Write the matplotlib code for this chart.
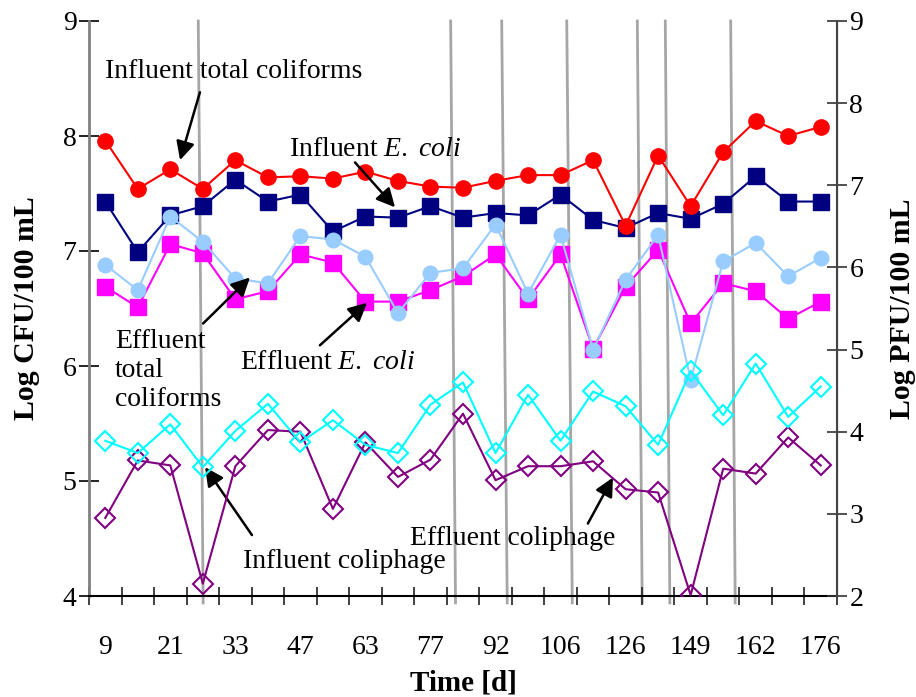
import numpy as np
import matplotlib
matplotlib.use("Agg")
import matplotlib.pyplot as plt

plt.rcParams['font.family'] = ['Liberation Serif', 'DejaVu Serif']
plt.rcParams['mathtext.fontset'] = 'custom'
plt.rcParams['mathtext.rm'] = 'Liberation Serif'
plt.rcParams['mathtext.it'] = 'Liberation Serif:italic'

# time axis (categories, every second one labelled)
tick_labels = ['9', '21', '33', '47', '63', '77', '92', '106', '126', '149', '162', '176']
n_pts = 23

# Log CFU/100 mL (left axis)
inf_total = [7.96, 7.54, 7.71, 7.54, 7.79, 7.64, 7.65, 7.63, 7.69, 7.61, 7.56, 7.55,
             7.61, 7.66, 7.66, 7.79, 7.22, 7.83, 7.39, 7.86, 8.13, 8.00, 8.08]
inf_ecoli = [7.43, 6.99, 7.31, 7.39, 7.62, 7.43, 7.49, 7.17, 7.30, 7.29, 7.39, 7.29,
             7.33, 7.31, 7.49, 7.27, 7.20, 7.33, 7.28, 7.41, 7.65, 7.43, 7.43]
eff_total = [6.88, 6.66, 7.30, 7.08, 6.76, 6.72, 7.13, 7.10, 6.95, 6.46, 6.81, 6.85,
             7.23, 6.63, 7.14, 6.14, 6.75, 7.14, 5.88, 6.91, 7.07, 6.78, 6.94]
eff_ecoli = [6.69, 6.51, 7.06, 6.98, 6.58, 6.65, 6.97, 6.90, 6.56, 6.56, 6.66, 6.78,
             6.97, 6.58, 6.97, 6.15, 6.69, 7.01, 6.37, 6.72, 6.65, 6.41, 6.56]

# Log PFU/100 mL (right axis)
eff_phage = [3.89, 3.74, 4.09, 3.57, 4.01, 4.34, 3.87, 4.14, 3.84, 3.74, 4.33, 4.60,
             3.74, 4.45, 3.89, 4.49, 4.31, 3.84, 4.74, 4.20, 4.83, 4.18, 4.55]
inf_phage = [2.95, 3.65, 3.59, 2.15, 3.58, 4.02, 4.00, 3.06, 3.87, 3.45, 3.66, 4.22,
             3.41, 3.58, 3.58, 3.64, 3.30, 3.26, 2.01, 3.55, 3.49, 3.93, 3.59]

# grey marker lines (category units, at top and bottom of the plot)
vline_top = [2.86, 10.62, 12.19, 14.19, 16.36, 17.22, 19.23]
vline_bot = [3.01, 10.77, 12.36, 14.36, 16.51, 17.36, 19.37]

x = np.arange(n_pts)

fig = plt.figure(figsize=(9.16, 6.97), dpi=100)
ax1 = fig.add_axes([89 / 916, 1 - 596 / 697, 748 / 916, 575 / 697])
ax2 = ax1.twinx()

for xt, xb in zip(vline_top, vline_bot):
    ax1.plot([xt, xb], [9, 3.94], color='#a6a6a6', lw=2, clip_on=False, zorder=1)

ax1.plot(x, inf_ecoli, '-s', color='#000080', lw=1.5, ms=12, zorder=3)
ax1.plot(x, eff_ecoli, '-s', color='#ff00ff', lw=1.5, ms=12, zorder=3)
ax1.plot(x, eff_total, '-o', color='#99ccff', lw=1.5, ms=10.5, zorder=3)
ax1.plot(x, inf_total, '-o', color='#ff0000', lw=1.5, ms=11, zorder=3)

ax2.plot(x, inf_phage, '-D', color='#800080', mfc='none', mec='#800080', mew=1.5, lw=1.5, ms=10)
ax2.plot(x, eff_phage, '-D', color='#00ffff', mfc='none', mec='#00ffff', mew=1.5, lw=1.5, ms=10)

ax1.set_xlim(-0.5, n_pts - 0.5)
ax1.set_ylim(4, 9)
ax2.set_ylim(2, 9)

ax1.set_xticks(np.arange(0, n_pts, 2))
ax1.set_xticklabels(tick_labels)
ax1.set_xticks(np.arange(-0.5, n_pts, 1), minor=True)
ax1.tick_params(axis='x', which='major', length=0, pad=28, labelsize=20)
ax1.tick_params(axis='x', which='minor', direction='inout', length=13, width=1.2, color='#222222')
ax1.set_yticks(range(4, 10))
ax1.tick_params(axis='y', direction='inout', length=14, width=1.2, pad=2, labelsize=20)
ax2.set_yticks(range(2, 10))
ax2.tick_params(axis='y', direction='inout', length=14, width=1.2, pad=2, labelsize=20, color='#333333')

for a in (ax1, ax2):
    a.spines['top'].set_visible(False)
ax1.spines['left'].set_color('#808080')
ax1.spines['left'].set_linewidth(2)
ax1.spines['bottom'].set_linewidth(1.5)
ax2.spines['right'].set_color('#444444')
ax2.spines['right'].set_linewidth(1.5)
ax2.spines['left'].set_visible(False)
ax2.spines['bottom'].set_visible(False)

ax1.set_ylabel('Log CFU/100 mL', fontsize=21.5, fontweight='bold')
ax1.yaxis.set_label_coords(-0.066, 0.5)
ax2.set_ylabel('Log PFU/100 mL', fontsize=21.5, fontweight='bold')
ax2.yaxis.set_label_coords(1.069, 0.5)
ax1.set_xlabel('Time [d]', fontsize=21, fontweight='bold')
ax1.xaxis.set_label_coords(0.5, -0.128)

# annotations (left-axis data units)
txt = dict(fontsize=20, color='black', zorder=6)
ax1.text(3.96, 8.56, 'Influent total coliforms', ha='center', va='center', **txt)
ax1.text(8.29, 7.88, r'Influent $\mathit{E.\ coli}$', ha='center', va='center', **txt)
ax1.text(0.30, 5.96, 'Effluent\ntotal\ncoliforms', ha='left', va='center', linespacing=1.22, **txt)
ax1.text(4.15, 6.03, r'Effluent $\mathit{E.\ coli}$', ha='left', va='center', **txt)
ax1.text(4.24, 4.30, 'Influent coliphage', ha='left', va='center', **txt)
ax1.text(9.37, 4.50, 'Effluent coliphage', ha='left', va='center', **txt)

arrows = [((2.91, 8.38), (2.30, 7.79)),
          ((7.68, 7.77), (8.91, 7.38)),
          ((3.01, 6.37), (4.45, 6.77)),
          ((6.60, 6.18), (8.05, 6.55)),
          ((4.51, 4.53), (3.07, 5.12)),
          ((14.84, 4.63), (15.61, 5.03))]
for tail, head in arrows:
    ax1.annotate('', xy=head, xytext=tail, zorder=6,
                 arrowprops=dict(arrowstyle='-|>', color='black', lw=1.8,
                                 mutation_scale=28, shrinkA=0, shrinkB=0))

fig.savefig('out.png', dpi=100)
